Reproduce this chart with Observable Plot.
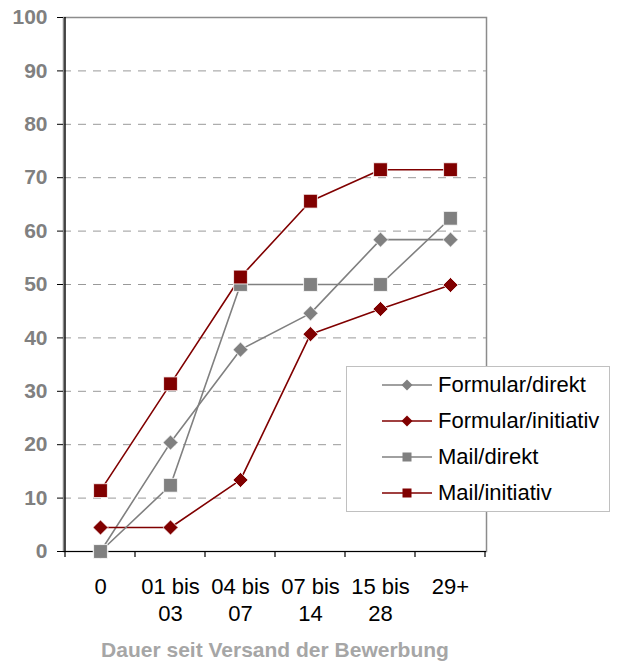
<!DOCTYPE html>
<html><head><meta charset="utf-8">
<script src="https://cdn.jsdelivr.net/npm/d3@7"></script>
<script src="https://cdn.jsdelivr.net/npm/@observablehq/plot@0.6"></script>
<style>
body{margin:0;background:#fff;font-family:"Liberation Sans",Arial,sans-serif;}
#wrap{position:relative;width:623px;height:663px;}
#legend{position:absolute;left:346px;top:366px;width:264px;height:146px;border:1px solid #c0c0c0;background:#fff;box-sizing:border-box;}
.row{position:absolute;left:0;height:36px;display:flex;align-items:center;}
.row svg{margin-left:35px;}
.row span{margin-left:6px;font-size:22px;color:#000;font-family:"Liberation Sans",Arial,sans-serif;}
</style></head>
<body><div id="wrap"><div id="chart"></div><div id="legend"></div></div>
<script>
const categories = ["0", "01 bis\n03", "04 bis\n07", "07 bis\n14", "15 bis\n28", "29+"];
const seriesNames = ["Formular/direkt", "Formular/initiativ", "Mail/direkt", "Mail/initiativ"];
const formularDirekt = [0, 20.4, 37.8, 44.6, 58.4, 58.4];
const formularInitiativ = [4.5, 4.5, 13.4, 40.7, 45.4, 49.9];
const mailDirekt = [0, 12.4, 50, 50, 50, 62.4];
const mailInitiativ = [11.4, 31.4, 51.4, 65.6, 71.5, 71.5];
const yTicks = [0, 10, 20, 30, 40, 50, 60, 70, 80, 90, 100];
const xTitle = "Dauer seit Versand der Bewerbung";

const gray = "#808080", red = "#800000";
const seriesColor = [gray, red, gray, red];
const seriesSymbol = ["diamond2", "diamond2", "square", "square"];
const seriesValues = [formularDirekt, formularInitiativ, mailDirekt, mailInitiativ];

const data = seriesNames.flatMap((s, i) => categories.map((c, j) => ({series: s, idx: i, cat: c, value: seriesValues[i][j]})));

const font = "Liberation Sans, Arial, sans-serif";
const marks = [
  Plot.gridY(yTicks.filter(t => t > 0 && t < 100), {stroke: "#999", strokeOpacity: 1, strokeDasharray: "8,7"}),
  Plot.frame({stroke: "#8c8c8c", strokeWidth: 1.5}),
  Plot.ruleY([0], {stroke: "#000", strokeWidth: 1.2}),
  Plot.axisY({ticks: yTicks, tickSize: 6, tickFormat: () => "", stroke: "#000"}),
  Plot.axisY({ticks: yTicks, tickSize: 0, tickPadding: 16, fill: "#808080", fontWeight: "bold", fontSize: 21, fontFamily: font}),
  Plot.axisX({tickSize: 0, tickPadding: 23, fill: "#000", fontSize: 22, fontFamily: font, lineHeight: 1.24, label: null}),
  Plot.text([xTitle], {frameAnchor: "bottom", dy: 105, fill: "#a6a6a6", fontWeight: "bold", fontSize: 21, fontFamily: font}),
];
seriesNames.forEach((s, i) => {
  const d = data.filter(r => r.idx === i);
  marks.push(Plot.line(d, {x: "cat", y: "value", stroke: seriesColor[i], strokeWidth: 1.6}));
});
seriesNames.forEach((s, i) => {
  const d = data.filter(r => r.idx === i);
  marks.push(Plot.dot(d, {x: "cat", y: "value", symbol: () => seriesSymbol[i], fill: seriesColor[i], stroke: "#fff", strokeWidth: 0.8, r: seriesSymbol[i] === "square" ? 7.8 : 6.8}));
});

const plot = Plot.plot({
  width: 623, height: 663,
  marginLeft: 63, marginRight: 137, marginTop: 17, marginBottom: 112,
  style: {fontFamily: font, background: "#fff", overflow: "visible"},
  x: {type: "point", domain: categories, padding: 0.5, label: null},
  y: {domain: [0, 100], label: null},
  symbol: {type: "identity"},
  marks
});
document.getElementById("chart").appendChild(plot);

// boundary ticks on x axis and left axis line, from the library's scales
const xs = plot.scale("x"), ys = plot.scale("y");
const pos = categories.map(c => xs.apply(c));
const step = pos[1] - pos[0];
const bounds = pos.map(p => p - step / 2).concat([pos[pos.length - 1] + step / 2]);
const y0 = ys.apply(0), y100 = ys.apply(100);
const svg = d3.select(plot);
const g = svg.append("g");
g.selectAll("line.bt").data(bounds).join("line")
  .attr("x1", d => d).attr("x2", d => d).attr("y1", y0).attr("y2", y0 + 6)
  .attr("stroke", "#000").attr("stroke-width", 1.2);
g.append("line").attr("x1", bounds[0]).attr("x2", bounds[0]).attr("y1", y0).attr("y2", y100)
  .attr("stroke", "#000").attr("stroke-width", 1.4);
svg.selectAll("g[aria-label='line'], g[aria-label='dot']").each(function() { this.parentNode.appendChild(this); });

// legend
const legend = document.getElementById("legend");
seriesNames.forEach((s, i) => {
  const row = document.createElement("div");
  row.className = "row";
  row.style.top = (i * 36) + "px";
  const ns = "http://www.w3.org/2000/svg";
  const sv = document.createElementNS(ns, "svg");
  sv.setAttribute("width", 50); sv.setAttribute("height", 20);
  const ln = document.createElementNS(ns, "line");
  ln.setAttribute("x1", 0); ln.setAttribute("x2", 50); ln.setAttribute("y1", 10); ln.setAttribute("y2", 10);
  ln.setAttribute("stroke", seriesColor[i]); ln.setAttribute("stroke-width", 1.5);
  sv.appendChild(ln);
  let mk;
  if (seriesSymbol[i] === "square") {
    mk = document.createElementNS(ns, "rect");
    mk.setAttribute("x", 20.5); mk.setAttribute("y", 5.5); mk.setAttribute("width", 9); mk.setAttribute("height", 9);
  } else {
    mk = document.createElementNS(ns, "path");
    mk.setAttribute("d", "M25,4.5L30.5,10L25,15.5L19.5,10Z");
  }
  mk.setAttribute("fill", seriesColor[i]);
  sv.appendChild(mk);
  row.appendChild(sv);
  const sp = document.createElement("span");
  sp.textContent = s;
  row.appendChild(sp);
  legend.appendChild(row);
});
</script></body></html>
